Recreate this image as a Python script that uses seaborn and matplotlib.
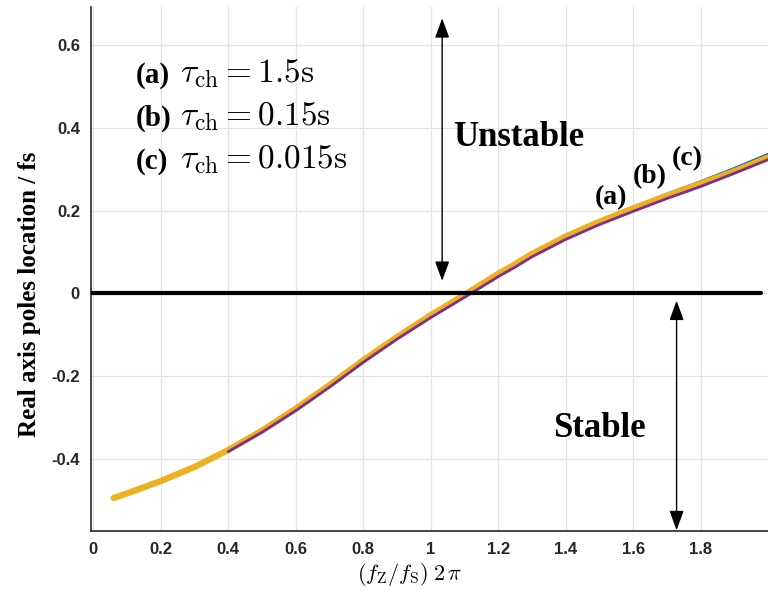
import numpy as np
import pandas as pd
import matplotlib
matplotlib.use("Agg")
import matplotlib.pyplot as plt
import seaborn as sns

# ---- data ----
x_vals = [0.06, 0.1, 0.2, 0.3, 0.4, 0.5, 0.6, 0.7, 0.8, 0.9, 1.0, 1.1, 1.2, 1.25,
          1.3, 1.4, 1.5, 1.6, 1.7, 1.8, 1.9, 2.0]
curve_blue = [-0.496, -0.486, -0.455, -0.421, -0.380, -0.332, -0.279, -0.222, -0.162,
              -0.106, -0.053, -0.003, 0.049, 0.072, 0.097, 0.140, 0.176, 0.208, 0.240,
              0.270, 0.302, 0.336]
curve_red = [-0.497, -0.487, -0.457, -0.423, -0.382, -0.333, -0.280, -0.223, -0.163,
             -0.107, -0.054, -0.004, 0.048, 0.071, 0.096, 0.138, 0.174, 0.206, 0.237,
             0.267, 0.299, 0.333]
curve_yellow = [-0.495, -0.484, -0.454, -0.420, -0.379, -0.332, -0.279, -0.222, -0.162,
                -0.106, -0.053, -0.004, 0.047, 0.070, 0.095, 0.137, 0.173, 0.205, 0.236,
                0.265, 0.295, 0.328]
x_purple = [0.4, 0.5, 0.6, 0.7, 0.8, 0.9, 1.0, 1.1, 1.2, 1.25, 1.3, 1.4, 1.5, 1.6,
            1.7, 1.8, 1.9, 2.0]
curve_purple = [-0.383, -0.336, -0.284, -0.227, -0.167, -0.111, -0.059, -0.010, 0.040,
                0.063, 0.088, 0.130, 0.166, 0.198, 0.229, 0.258, 0.290, 0.323]

x_ticks = [0, 0.2, 0.4, 0.6, 0.8, 1.0, 1.2, 1.4, 1.6, 1.8]
x_tick_labels = ["0", "0.2", "0.4", "0.6", "0.8", "1", "1.2", "1.4", "1.6", "1.8"]
y_ticks = [-0.4, -0.2, 0, 0.2, 0.4, 0.6]
y_tick_labels = ["-0.4", "-0.2", "0", "0.2", "0.4", "0.6"]

legend_tags = ["(a)", "(b)", "(c)"]
legend_maths = [r"$\tau_{\rm ch} = 1.5{\rm s}$",
                r"$\tau_{\rm ch} = 0.15{\rm s}$",
                r"$\tau_{\rm ch} = 0.015{\rm s}$"]
curve_labels = ["(a)", "(b)", "(c)"]

# ---- style ----
sns.set_theme(style="white")
plt.rcParams["font.family"] = ["Liberation Serif", "DejaVu Serif"]
plt.rcParams["mathtext.fontset"] = "cm"
plt.rcParams["text.color"] = "black"
plt.rcParams["axes.labelcolor"] = "black"

fig = plt.figure(figsize=(7.68, 5.92), dpi=100)
ax = fig.add_axes([0.1185, 0.103, 0.8815, 0.885])

df_main = pd.DataFrame({"x": x_vals, "blue": curve_blue, "red": curve_red,
                        "yellow": curve_yellow})
df_p = pd.DataFrame({"x": x_purple, "purple": curve_purple})

sns.lineplot(data=df_main, x="x", y="blue", color="#0072BD", lw=2, ax=ax)
sns.lineplot(data=df_main, x="x", y="red", color="#D95319", lw=2, ax=ax)
sns.lineplot(data=df_main, x="x", y="yellow", color="#EDB120", lw=4.5, ax=ax)
sns.lineplot(data=df_p, x="x", y="purple", color="#7E2F8E", lw=2, ax=ax)

ax.set_xlim(-0.007, 2.0)
ax.set_ylim(-0.575, 0.692)

# zero line
ax.plot([-0.007, 1.978], [0, 0], color="black", lw=3, zorder=5)

# arrows
astyle = "<|-|>,head_length=0.6,head_width=0.22"
ax.annotate("", xy=(1.034, 0.665), xytext=(1.034, 0.030),
            arrowprops=dict(arrowstyle=astyle, color="black", lw=1.0,
                            mutation_scale=20, shrinkA=0, shrinkB=0))
ax.annotate("", xy=(1.729, -0.018), xytext=(1.729, -0.573),
            arrowprops=dict(arrowstyle=astyle, color="black", lw=1.0,
                            mutation_scale=20, shrinkA=0, shrinkB=0))

ax.text(1.262, 0.377, "Unstable", fontsize=25, fontweight="bold",
        ha="center", va="center")
ax.text(1.499, -0.326, "Stable", fontsize=25, fontweight="bold",
        ha="center", va="center")

for i, (tag, m) in enumerate(zip(legend_tags, legend_maths)):
    yb = 0.510 - 0.104 * i
    ax.text(0.126, yb, tag, fontsize=21, fontweight="bold", ha="left", va="baseline")
    ax.text(0.256, yb, m, fontsize=24, ha="left", va="baseline")

for (cx, cy), s in zip([(1.534, 0.232), (1.650, 0.283), (1.762, 0.326)], curve_labels):
    ax.text(cx, cy, s, fontsize=20, fontweight="bold", ha="center", va="center")

ax.set_xticks(x_ticks)
ax.set_xticklabels(x_tick_labels)
ax.set_yticks(y_ticks)
ax.set_yticklabels(y_tick_labels)
for lab in ax.get_xticklabels() + ax.get_yticklabels():
    lab.set_fontfamily("Liberation Sans")
    lab.set_fontweight("bold")
    lab.set_fontsize(12)
    lab.set_color("#262626")

ax.tick_params(direction="in", length=5, width=1, color="#262626", pad=8)
ax.grid(True, color="#e3e3e3", lw=0.9)
ax.set_axisbelow(True)
for side in ["top", "right"]:
    ax.spines[side].set_visible(False)
for side in ["left", "bottom"]:
    ax.spines[side].set_color("#262626")
    ax.spines[side].set_linewidth(1.2)

ax.set_xlabel(r"$(f_{\rm Z}/f_{\rm S})\;\mathbf{2}\,\pi$", fontsize=16)
ax.xaxis.set_label_coords(0.471, -0.058)
ax.set_ylabel("Real axis poles location / fs", fontsize=18, fontweight="bold")
ax.yaxis.set_label_coords(-0.074, 0.452)

fig.savefig("out.png", dpi=100)
